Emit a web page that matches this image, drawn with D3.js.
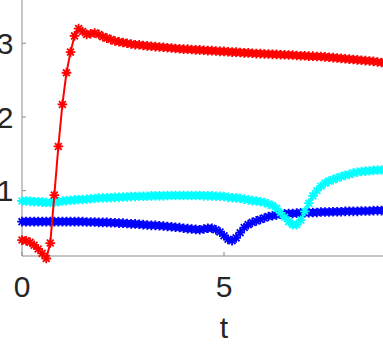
<!DOCTYPE html>
<html>

<head>
    <meta charset="utf-8">
    <title>Three series vs t</title>
    <style>
        body { margin: 0; background: #fff; }
        text { font-family: "Liberation Sans", Arial, sans-serif; fill: #262626; }
    </style>
</head>

<body>
    <script src="https://d3js.org/d3.v7.min.js"></script>
    <script>
    // sample times (step 0.1)
    var tValues = [
        0.0, 0.1, 0.2, 0.3, 0.4, 0.5, 0.6, 0.7, 0.8, 0.9,
        1.0, 1.1, 1.2, 1.3, 1.4, 1.5, 1.6, 1.7, 1.8, 1.9,
        2.0, 2.1, 2.2, 2.3, 2.4, 2.5, 2.6, 2.7, 2.8, 2.9,
        3.0, 3.1, 3.2, 3.3, 3.4, 3.5, 3.6, 3.7, 3.8, 3.9,
        4.0, 4.1, 4.2, 4.3, 4.4, 4.5, 4.6, 4.7, 4.8, 4.9,
        5.0, 5.1, 5.2, 5.3, 5.4, 5.5, 5.6, 5.7, 5.8, 5.9,
        6.0, 6.1, 6.2, 6.3, 6.4, 6.5, 6.6, 6.7, 6.8, 6.9,
        7.0, 7.1, 7.2, 7.3, 7.4, 7.5, 7.6, 7.7, 7.8, 7.9,
        8.0, 8.1, 8.2, 8.3, 8.4, 8.5, 8.6, 8.7, 8.8, 8.9,
        9.0
    ];

    var redValues = [
        0.33, 0.32, 0.30, 0.26, 0.21, 0.15, 0.08, 0.29, 0.94, 1.60,
        2.17, 2.60, 2.88, 3.10, 3.20, 3.16, 3.12, 3.13, 3.14, 3.12,
        3.09, 3.07, 3.05, 3.03, 3.02, 3.01, 3.00, 2.99, 2.98, 2.98,
        2.97, 2.965, 2.96, 2.955, 2.95, 2.945, 2.94, 2.935, 2.93, 2.925,
        2.92, 2.92, 2.915, 2.91, 2.91, 2.905, 2.90, 2.90, 2.895, 2.89,
        2.89, 2.885, 2.88, 2.88, 2.875, 2.87, 2.87, 2.865, 2.86, 2.86,
        2.855, 2.855, 2.85, 2.85, 2.845, 2.845, 2.84, 2.84, 2.835, 2.83,
        2.83, 2.825, 2.825, 2.82, 2.82, 2.815, 2.81, 2.805, 2.80, 2.795,
        2.79, 2.785, 2.78, 2.775, 2.77, 2.765, 2.76, 2.755, 2.745, 2.74,
        2.735
    ];

    var blueValues = [
        0.58, 0.58, 0.58, 0.58, 0.58, 0.58, 0.58, 0.58, 0.58, 0.58,
        0.58, 0.58, 0.58, 0.58, 0.58, 0.58, 0.575, 0.575, 0.575, 0.57,
        0.57, 0.57, 0.565, 0.565, 0.56, 0.56, 0.555, 0.55, 0.55, 0.545,
        0.54, 0.535, 0.53, 0.53, 0.525, 0.52, 0.515, 0.51, 0.505, 0.50,
        0.49, 0.485, 0.48, 0.475, 0.47, 0.48, 0.49, 0.49, 0.47, 0.44,
        0.39, 0.34, 0.32, 0.36, 0.43, 0.50, 0.54, 0.57, 0.59, 0.61,
        0.63, 0.65, 0.66, 0.67, 0.68, 0.685, 0.69, 0.69, 0.695, 0.70,
        0.70, 0.70, 0.705, 0.705, 0.71, 0.71, 0.71, 0.715, 0.715, 0.715,
        0.72, 0.72, 0.72, 0.72, 0.725, 0.725, 0.725, 0.73, 0.73, 0.73,
        0.73
    ];

    var cyanValues = [
        0.86, 0.86, 0.855, 0.85, 0.85, 0.845, 0.84, 0.84, 0.845, 0.85,
        0.86, 0.865, 0.87, 0.875, 0.88, 0.88, 0.885, 0.89, 0.895, 0.90,
        0.90, 0.905, 0.905, 0.91, 0.91, 0.915, 0.915, 0.92, 0.92, 0.925,
        0.925, 0.925, 0.93, 0.93, 0.93, 0.93, 0.935, 0.935, 0.935, 0.935,
        0.935, 0.935, 0.935, 0.935, 0.935, 0.93, 0.93, 0.93, 0.925, 0.925,
        0.92, 0.91, 0.905, 0.90, 0.895, 0.885, 0.875, 0.865, 0.86, 0.85,
        0.84, 0.82, 0.80, 0.76, 0.70, 0.64, 0.58, 0.54, 0.54, 0.60,
        0.72, 0.83, 0.93, 1.00, 1.06, 1.10, 1.13, 1.15, 1.17, 1.19,
        1.21, 1.22, 1.24, 1.25, 1.26, 1.265, 1.27, 1.275, 1.28, 1.28,
        1.285
    ];

    var xTicks = [0, 5];
    var yTicks = [1, 2, 3];
    var xLabel = "t";

    const width = 383;
    const height = 346;

    var x = d3.scaleLinear().domain([0, 10]).range([22, 426]);
    var y = d3.scaleLinear().domain([0.114, 3.587]).range([256, 0]);

    var svg = d3.select("body")
        .append("svg")
        .attr("width", width)
        .attr("height", height);

    // axis lines (left and bottom only are visible)
    svg.append("line")
        .attr("x1", x(0)).attr("x2", x(0))
        .attr("y1", y(3.587)).attr("y2", y(0.114))
        .attr("stroke", "#8c8c8c");
    svg.append("line")
        .attr("x1", x(0)).attr("x2", width)
        .attr("y1", y(0.114)).attr("y2", y(0.114))
        .attr("stroke", "#8c8c8c");

    svg.selectAll(".xtick")
        .data(xTicks)
        .enter()
        .append("line")
        .attr("x1", function(d) { return x(d); })
        .attr("x2", function(d) { return x(d); })
        .attr("y1", y(0.114))
        .attr("y2", y(0.114) - 4)
        .attr("stroke", "#8c8c8c");

    svg.selectAll(".xlab")
        .data(xTicks)
        .enter()
        .append("text")
        .attr("x", function(d) { return x(d); })
        .attr("y", 297)
        .style("text-anchor", "middle")
        .style("font-size", "30px")
        .text(function(d) { return d; });

    svg.selectAll(".ytick")
        .data(yTicks)
        .enter()
        .append("line")
        .attr("x1", x(0))
        .attr("x2", x(0) + 4)
        .attr("y1", function(d) { return y(d); })
        .attr("y2", function(d) { return y(d); })
        .attr("stroke", "#8c8c8c");

    svg.selectAll(".ylab")
        .data(yTicks)
        .enter()
        .append("text")
        .attr("x", 13.5)
        .attr("y", function(d) { return y(d); })
        .attr("dy", "0.36em")
        .style("text-anchor", "end")
        .style("font-size", "30px")
        .text(function(d) { return d; });

    svg.append("text")
        .attr("x", x(5))
        .attr("y", 338)
        .style("text-anchor", "middle")
        .style("font-size", "30px")
        .text(xLabel);

    // MATLAB-style '*' marker
    var r = 4.8, a = r * 0.7071;
    var star = "M" + (-r) + ",0H" + r + "M0," + (-r) + "V" + r +
        "M" + (-a) + "," + (-a) + "L" + a + "," + a +
        "M" + (-a) + "," + a + "L" + a + "," + (-a);

    var plot = svg.append("g");

    function drawSeries(values, color) {
        var pts = tValues.map(function(t, i) { return [t, values[i]]; });
        var line = d3.line()
            .x(function(d) { return x(d[0]); })
            .y(function(d) { return y(d[1]); });
        plot.append("path")
            .attr("d", line(pts))
            .attr("fill", "none")
            .attr("stroke", color)
            .attr("stroke-width", 2);
        plot.append("g")
            .selectAll("path")
            .data(pts)
            .enter()
            .append("path")
            .attr("transform", function(d) {
                return "translate(" + x(d[0]) + "," + y(d[1]) + ")";
            })
            .attr("d", star)
            .attr("fill", "none")
            .attr("stroke", color)
            .attr("stroke-width", 1.8);
    }

    drawSeries(blueValues, "#0000ff");
    drawSeries(cyanValues, "#00ffff");
    drawSeries(redValues, "#ff0000");
    </script>
</body>

</html>
